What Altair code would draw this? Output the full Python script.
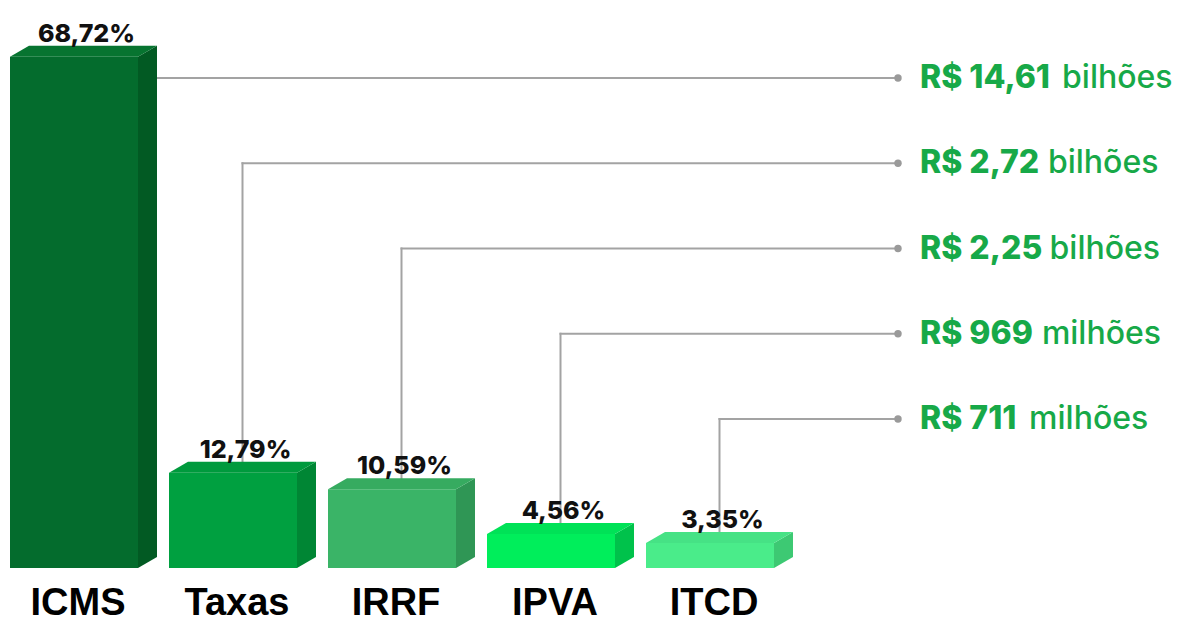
import altair as alt
import pandas as pd

# ---------------- data ----------------
categories = ["ICMS", "Taxas", "IRRF", "IPVA", "ITCD"]
percent = [68.72, 12.79, 10.59, 4.56, 3.35]
pct_labels = ["68,72%", "12,79%", "10,59%", "4,56%", "3,35%"]
amount_bold = ["R$ 14,61", "R$ 2,72", "R$ 2,25", "R$ 969", "R$ 711"]
amount_unit = ["bilhões", "bilhões", "bilhões", "milhões", "milhões"]

front_colors = ["#046C2D", "#00A040", "#3AB467", "#00EE5B", "#4AEC8A"]
side_colors = ["#025A23", "#008634", "#2F9655", "#00C24B", "#3DC973"]
top_colors = ["#077430", "#009A3D", "#36AB60", "#00E257", "#46E285"]

# ---------------- layout constants ----------------
W, H = 1176, 614
SLOT = 159.0          # px per category slot
X0 = 2.0              # px of first bar's left edge
ZERO_Y = 560.0        # px of value 0
PX = 7.44             # px per percent point
FRONT = 128 / SLOT    # front face width (slot units)
DX = 19 / SLOT        # 3D depth, x
DY = 11 / PX          # 3D depth, y (percent units)
ROW0 = (ZERO_Y - 70) / PX
ROW_STEP = 85.25 / PX
DOT_X = (890 - X0) / SLOT
TXT_X = (912 - X0) / SLOT
MID = (FRONT + DX) / 2

BOLD_SIZE = 32
# approximate advance widths (em) for the bold font
cw = {"R": 0.70, "$": 0.66, " ": 0.25, ",": 0.29, "1": 0.49, "2": 0.64,
      "3": 0.65, "4": 0.68, "5": 0.65, "6": 0.66, "7": 0.60, "9": 0.66}


def text_w(s):
    return sum(cw.get(c, 0.64) for c in s) * BOLD_SIZE


xs = alt.Scale(domain=[-X0 / SLOT, (W - X0) / SLOT], nice=False, zero=False)
ys = alt.Scale(domain=[(ZERO_Y - H) / PX, ZERO_Y / PX], nice=False, zero=False)

rows_front, rows_side, rows_top, rows_lead, rows_lab = [], [], [], [], []
for i, (c, v) in enumerate(zip(categories, percent)):
    xl, xr = float(i), i + FRONT
    rows_front.append(dict(cat=c, x=xl, x2=xr, y=0.0, y2=v))
    rows_side += [dict(cat=c, x=xr, y=v, y2=0.0),
                  dict(cat=c, x=xr + DX, y=v + DY, y2=DY)]
    rows_top += [dict(cat=c, x=xl, y=v, y2=v),
                 dict(cat=c, x=xl + DX, y=v + DY, y2=v),
                 dict(cat=c, x=xr, y=v + DY, y2=v),
                 dict(cat=c, x=xr + DX, y=v + DY, y2=v + DY)]
    row = ROW0 - i * ROW_STEP
    if i == 0:
        rows_lead.append(dict(x=xr + DX, x2=DOT_X, y=row, y2=row))
    else:
        rows_lead.append(dict(x=xl + MID, x2=xl + MID, y=v + DY / 2, y2=row))
        rows_lead.append(dict(x=xl + MID, x2=DOT_X, y=row, y2=row))
    rows_lab.append(dict(cat=c, pl=pct_labels[i], xp=xl + MID + 3 / SLOT, yp=v + DY,
                         xc=xl + FRONT / 2 + 4 / SLOT,
                         row=row, bold=amount_bold[i], unit=amount_unit[i],
                         xt=TXT_X, xu=TXT_X + (text_w(amount_bold[i]) + 7) / SLOT))

df_front = pd.DataFrame(rows_front)
df_side = pd.DataFrame(rows_side)
df_top = pd.DataFrame(rows_top)
df_lead = pd.DataFrame(rows_lead)
df_lab = pd.DataFrame(rows_lab)


def col(rng):
    return alt.Color("cat:N", scale=alt.Scale(domain=categories, range=rng), legend=None)


front = alt.Chart(df_front).mark_rect().encode(
    x=alt.X("x:Q", scale=xs, axis=None), x2="x2:Q",
    y=alt.Y("y:Q", scale=ys, axis=None), y2="y2:Q",
    color=col(front_colors))

side = alt.Chart(df_side).mark_area(orient="vertical", opacity=1).encode(
    x=alt.X("x:Q", scale=xs, axis=None),
    y=alt.Y("y:Q", scale=ys, axis=None), y2="y2:Q",
    color=col(side_colors))

top = alt.Chart(df_top).mark_area(orient="vertical", opacity=1).encode(
    x=alt.X("x:Q", scale=xs, axis=None),
    y=alt.Y("y:Q", scale=ys, axis=None), y2="y2:Q",
    color=col(top_colors))

lead = alt.Chart(df_lead).mark_rule(color="#A3A3A3", strokeWidth=2, strokeCap="square").encode(
    x=alt.X("x:Q", scale=xs, axis=None), x2="x2:Q",
    y=alt.Y("y:Q", scale=ys, axis=None), y2="y2:Q")

dots = alt.Chart(df_lab).mark_circle(color="#9A9A9A", size=55, opacity=1).encode(
    x=alt.X("dx:Q", scale=xs, axis=None),
    y=alt.Y("row:Q", scale=ys, axis=None)).transform_calculate(dx=str(DOT_X))

pct_text = alt.Chart(df_lab).mark_text(
    font="Inter", fontWeight=800, fontSize=25, color="#111111",
    align="center", baseline="alphabetic", dy=-4).encode(
    x=alt.X("xp:Q", scale=xs, axis=None),
    y=alt.Y("yp:Q", scale=ys, axis=None), text="pl:N")

cat_text = alt.Chart(df_lab).mark_text(
    font="Liberation Sans", fontWeight="bold", fontSize=38, color="#000000",
    align="center", baseline="alphabetic", dy=47).encode(
    x=alt.X("xc:Q", scale=xs, axis=None),
    y=alt.Y("z:Q", scale=ys, axis=None), text="cat:N").transform_calculate(z="0")

bold_text = alt.Chart(df_lab).mark_text(
    font="Inter", fontWeight=800, fontSize=BOLD_SIZE, color="#17A948",
    align="left", baseline="alphabetic", dy=10).encode(
    x=alt.X("xt:Q", scale=xs, axis=None),
    y=alt.Y("row:Q", scale=ys, axis=None), text="bold:N")

unit_text = alt.Chart(df_lab).mark_text(
    font="Inter", fontWeight=500, fontSize=BOLD_SIZE, color="#17A948",
    align="left", baseline="alphabetic", dy=10).encode(
    x=alt.X("xu:Q", scale=xs, axis=None),
    y=alt.Y("row:Q", scale=ys, axis=None), text="unit:N")

chart = alt.layer(lead, front, side, top, dots, pct_text, cat_text, bold_text, unit_text).resolve_scale(
    color="independent").properties(
    width=W, height=H, padding=0, autosize="none", background="white").configure_view(stroke=None)

chart.save("out.html", embed_options={"renderer": "svg", "actions": False})
